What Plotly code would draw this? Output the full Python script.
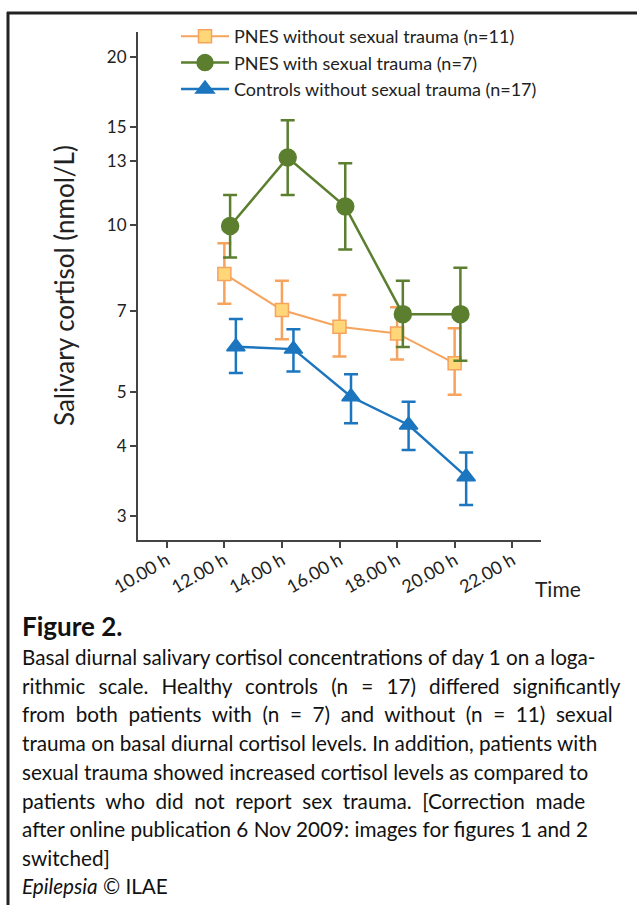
import plotly.graph_objects as go

W, H = 637, 905

times = [12, 14, 16, 18, 20]
x_ticks = [10, 12, 14, 16, 18, 20, 22]
x_tick_labels = ["10.00 h", "12.00 h", "14.00 h", "16.00 h", "18.00 h", "20.00 h", "22.00 h"]
y_ticks = [3, 4, 5, 7, 10, 13, 15, 20]

names = ["PNES without sexual trauma (n=11)",
         "PNES with sexual trauma (n=7)",
         "Controls without sexual trauma (n=17)"]

no_trauma_mean = [8.16, 7.03, 6.56, 6.38, 5.64]
no_trauma_hi = [9.26, 7.93, 7.48, 7.11, 6.52]
no_trauma_lo = [7.21, 6.23, 5.80, 5.73, 4.95]

trauma_mean = [9.95, 13.2, 10.78, 6.91, 6.91]
trauma_hi = [11.31, 15.4, 12.9, 7.93, 8.37]
trauma_lo = [8.73, 11.31, 9.03, 6.03, 5.70]

control_mean = [6.04, 5.98, 4.91, 4.37, 3.53]
control_hi = [6.77, 6.49, 5.39, 4.81, 3.90]
control_lo = [5.42, 5.45, 4.40, 3.94, 3.14]

x_offsets = [0.0, 0.2, 0.4]

caption_title = "Figure 2."
caption_lines = [
    "Basal diurnal salivary cortisol concentrations of day 1 on a loga-",
    "rithmic scale. Healthy controls (n = 17) differed significantly",
    "from both patients with (n = 7) and without (n = 11) sexual",
    "trauma on basal diurnal cortisol levels. In addition, patients with",
    "sexual trauma showed increased cortisol levels as compared to",
    "patients who did not report sex trauma. [Correction made",
    "after online publication 6 Nov 2009: images for figures 1 and 2",
    "switched]",
]
# extra spacing per word gap to imitate justified text
caption_extra = ["", "\u00a0\u2009", "\u00a0", "", "", "\u00a0", "", ""]
credit = "<i>Epilepsia</i> © ILAE"

FONT = "Lato, 'Open Sans', sans-serif"

colors = ["#F6A35E", "#5B7F2F", "#1B75BF"]
fills = ["#FFD778", "#5B7F2F", "#1B75BF"]
symbols = ["square", "circle", "triangle-up"]
sizes = [13, 17, 16]
means = [no_trauma_mean, trauma_mean, control_mean]
his = [no_trauma_hi, trauma_hi, control_hi]
los = [no_trauma_lo, trauma_lo, control_lo]

fig = go.Figure()
for i in range(3):
    xs = [t + x_offsets[i] for t in times]
    fig.add_trace(go.Scatter(
        x=xs, y=means[i], name=names[i], mode="lines+markers",
        line=dict(color=colors[i], width=2.5 if i else 2),
        marker=dict(symbol=symbols[i], size=sizes[i], color=fills[i],
                    line=dict(color=colors[i], width=1.5)),
        error_y=dict(type="data", symmetric=False,
                     array=[h - m for h, m in zip(his[i], means[i])],
                     arrayminus=[m - l for m, l in zip(means[i], los[i])],
                     color=colors[i], thickness=2.5, width=7),
    ))

px = lambda v: v / W
py = lambda v: 1 - v / H

fig.update_layout(
    width=W, height=H,
    margin=dict(l=0, r=0, t=0, b=0, autoexpand=False),
    paper_bgcolor="white", plot_bgcolor="white",
    font=dict(family=FONT, color="#222"),
    showlegend=True,
    legend=dict(x=px(176), y=py(18), xanchor="left", yanchor="top",
                font=dict(size=18, family=FONT, color="#222"),
                bgcolor="rgba(0,0,0,0)", tracegroupgap=0, itemwidth=48),
    xaxis=dict(domain=[px(138), px(541)], range=[9, 23], automargin=False,
               tickvals=x_ticks, ticktext=x_tick_labels, tickangle=-30,
               ticks="outside", ticklen=6, tickwidth=1.5, tickcolor="#444",
               ticklabelstandoff=-5,
               showline=True, linecolor="#444", linewidth=2,
               showgrid=False, zeroline=False,
               tickfont=dict(size=18, family=FONT, color="#222")),
    yaxis=dict(domain=[py(540), py(32)], type="log", automargin=False,
               range=[0.434, 1.346],
               tickvals=y_ticks, ticktext=[str(v) for v in y_ticks],
               ticks="outside", ticklen=6, tickwidth=1.5, tickcolor="#444",
               showline=True, linecolor="#444", linewidth=2,
               showgrid=False, zeroline=False,
               tickfont=dict(size=17, family=FONT, color="#222")),
    shapes=[
        dict(type="line", xref="paper", yref="paper", x0=px(7), x1=1, y0=py(13), y1=py(13),
             line=dict(color="#222", width=3)),
        dict(type="line", xref="paper", yref="paper", x0=px(8), x1=px(8), y0=py(12), y1=0,
             line=dict(color="#222", width=3)),
    ],
)

ann = []
ann.append(dict(text="Salivary cortisol (nmol/L)", x=px(64), y=py(286), xref="paper", yref="paper",
                xanchor="center", yanchor="middle",
                textangle=-90, showarrow=False, font=dict(size=26, family=FONT, color="#222")))
ann.append(dict(text="Time", x=px(558), y=py(588), xref="paper", yref="paper",
                xanchor="center", yanchor="middle",
                showarrow=False, font=dict(size=21, family=FONT, color="#222")))
ann.append(dict(text="<b>" + caption_title + "</b>", x=px(20), y=py(626), xref="paper", yref="paper",
                xanchor="left", yanchor="middle", showarrow=False,
                font=dict(size=26, family=FONT, color="#111")))
for k, line in enumerate(caption_lines):
    sep = " " + caption_extra[k]
    txt = sep.join(line.split(" "))
    ann.append(dict(text=txt, x=px(20), y=py(657 + k * 28.7), xref="paper", yref="paper",
                    xanchor="left", yanchor="middle", showarrow=False,
                    font=dict(size=20.7, family=FONT, color="#111")))
ann.append(dict(text=credit, x=px(20), y=py(886), xref="paper", yref="paper",
                xanchor="left", yanchor="middle", showarrow=False,
                font=dict(size=20.7, family=FONT, color="#111")))
fig.update_layout(annotations=ann)

fig.write_html("out.html", config={"displayModeBar": False},
               post_script="document.body.style.margin='0';document.body.style.overflow='hidden';")
